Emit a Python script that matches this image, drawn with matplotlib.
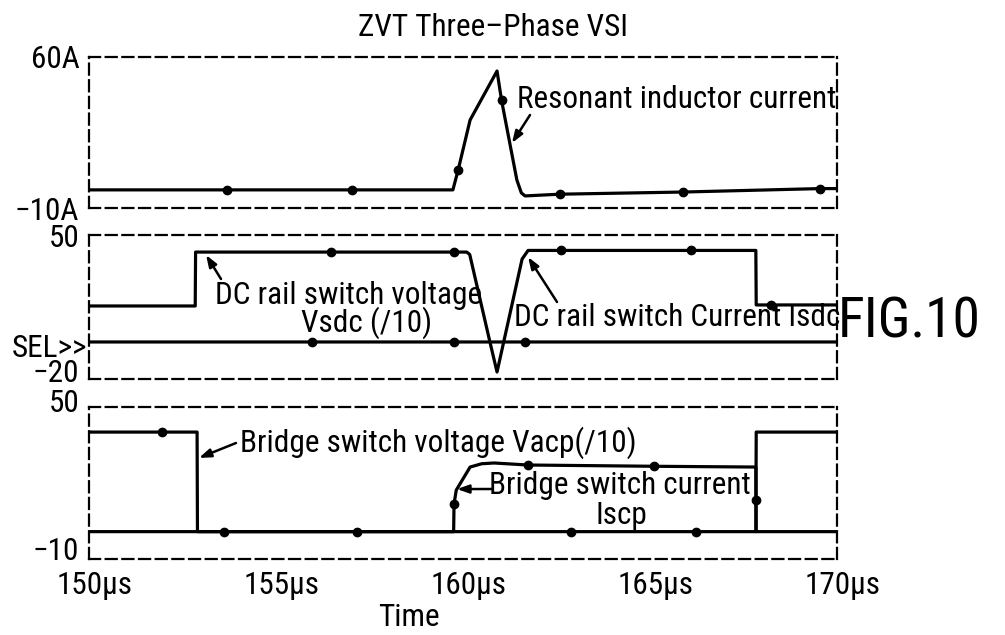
import numpy as np
import matplotlib
matplotlib.use("Agg")
import matplotlib.pyplot as plt
from matplotlib import font_manager as fm
from matplotlib.transforms import ScaledTranslation

# the drawing uses a narrow sans; look for one on the system, else fall back
narrow_name = None
for f in sorted(fm.findSystemFonts()):
    base = f.split("/")[-1].lower()
    if ("narrow" in base or "condensed" in base) and "bold" not in base and "italic" not in base \
            and "oblique" not in base:
        try:
            fm.fontManager.addfont(f)
            narrow_name = fm.FontProperties(fname=f).get_name()
            if "liberation" in base:
                break
        except Exception:
            pass

if narrow_name:
    plt.rcParams['font.family'] = [narrow_name, 'DejaVu Sans']
    fs, fs_big = 22.5, 40
else:
    plt.rcParams['font.family'] = ['Liberation Sans', 'DejaVu Sans']
    fs, fs_big = 20, 34

# ---- data (time in microseconds) ----
# panel 1: resonant inductor current (A)
t_lr = [150, 159.73, 159.87, 160.19, 160.91, 161.03, 161.44, 161.56, 161.66, 162.59, 165.88, 169.55, 170]
i_lr = [-1.6, -1.6, 7.6, 30.8, 53.5, 40.0, 3.0, -3.0, -4.4, -3.6, -2.6, -1.0, -1.0]
mk_t_lr = [153.69, 157.03, 159.87, 161.03, 162.59, 165.88, 169.55]
mk_v_lr = [-1.6, -1.6, 7.6, 40.0, -3.6, -2.6, -1.0]

# panel 2: DC rail switch voltage Vsdc(/10) and current Isdc
t_vsdc = [150, 152.84, 152.85, 160.10, 160.18, 160.72, 170]
v_vsdc = [15.5, 15.5, 41.7, 41.7, 40.5, -2.0, -2.0]
mk_t_vsdc = [156.48, 159.75, 161.65]
mk_v_vsdc = [41.7, 41.7, -2.0]

t_isdc = [150, 160.72, 160.91, 161.58, 161.74, 167.83, 167.84, 170]
i_isdc = [-2.0, -2.0, -16.6, 38.3, 42.5, 42.5, 16.0, 16.0]
mk_t_isdc = [155.97, 159.75, 162.61, 166.10, 168.23]
mk_v_isdc = [-2.0, -2.0, 42.5, 42.5, 16.0]

# panel 3: bridge switch voltage Vacp(/10) and current Iscp
t_vacp = [150, 152.89, 152.90, 167.83, 167.84, 170]
v_vacp = [40.1, 40.1, 0.8, 0.8, 40.1, 40.1]
mk_t_vacp = [151.95, 153.61, 157.17, 162.89, 166.22]
mk_v_vacp = [40.1, 0.8, 0.8, 0.8, 0.8]

t_iscp = [150, 159.75, 159.76, 159.82, 160.19, 160.50, 160.83, 161.73, 165.12, 167.83, 167.84, 170]
i_iscp = [0.8, 0.8, 11.7, 17.2, 26.3, 27.6, 27.9, 27.1, 26.6, 26.3, 0.8, 0.8]
mk_t_iscp = [159.76, 161.73, 165.12, 167.835]
mk_v_iscp = [11.7, 27.1, 26.6, 13.3]

x_ticks = [150, 155, 160, 165, 170]
x_labels = ["150µs", "155µs", "160µs", "165µs", "170µs"]
ylims = [(-10, 60), (-20, 50), (-10, 50)]
ylabels = [["−10A", "60A"], ["−20", "50"], ["−10", "50"]]

W, H = 1005, 635
fig = plt.figure(figsize=(W / 100, H / 100), dpi=100)


def frac(x, y):
    return x / W, 1 - y / H


def nudge(lab, dx_px, dy_px):
    lab.set_transform(lab.get_transform() +
                      ScaledTranslation(dx_px / 100, dy_px / 100, fig.dpi_scale_trans))


left, right = 89, 837
boxes = [(57, 208), (235, 379), (407, 559)]
axs = []
for (top, bot), lim, labs in zip(boxes, ylims, ylabels):
    ax = fig.add_axes([left / W, 1 - bot / H, (right - left) / W, (bot - top) / H])
    ax.set_xlim(150, 170)
    ax.set_ylim(*lim)
    for s in ax.spines.values():
        s.set_linestyle((0, (5, 2.5)))
        s.set_linewidth(1.6)
    ax.set_yticks(list(lim))
    ax.set_yticklabels(labs, fontsize=fs)
    ax.tick_params(length=0, pad=7)
    ax.set_xticks([])
    axs.append(ax)

# nudge the crowded y labels like the original
nudge(axs[1].get_yticklabels()[0], 0, 9)
nudge(axs[2].get_yticklabels()[1], 0, 7)
nudge(axs[2].get_yticklabels()[0], 0, 10)

ax3 = axs[2]
ax3.set_xticks(x_ticks)
ax3.set_xticklabels(x_labels, fontsize=fs)
ax3.tick_params(axis='x', length=0, pad=9)
for lab in ax3.get_xticklabels():
    nudge(lab, 6, 0)

lw = 2.3
ms = 6
kw = dict(color="black", lw=lw, solid_joinstyle="round")
mkw = dict(color="black", marker="o", ms=ms, ls="none")

a1 = axs[0]
a1.plot(t_lr, i_lr, **kw)
a1.plot(mk_t_lr, mk_v_lr, **mkw)

a2 = axs[1]
a2.plot(t_vsdc, v_vsdc, **kw)
a2.plot(t_isdc, i_isdc, **kw)
a2.plot(mk_t_vsdc, mk_v_vsdc, **mkw)
a2.plot(mk_t_isdc, mk_v_isdc, **mkw)

a3 = axs[2]
a3.plot(t_vacp, v_vacp, **kw)
a3.plot(t_iscp, i_iscp, **kw)
a3.plot(mk_t_vacp, mk_v_vacp, **mkw)
a3.plot(mk_t_iscp, mk_v_iscp, **mkw)

fig.text(*frac(493, 27), "ZVT Three–Phase VSI", fontsize=fs, ha="center", va="center")
fig.text(*frac(677, 100), "Resonant inductor current", fontsize=fs, ha="center", va="center")
fig.text(*frac(349, 295), "DC rail switch voltage", fontsize=fs, ha="center", va="center")
fig.text(*frac(367, 323), "Vsdc (/10)", fontsize=fs, ha="center", va="center")
fig.text(*frac(677, 317), "DC rail switch Current Isdc", fontsize=fs, ha="center", va="center")
fig.text(*frac(87, 348), "SEL>>", fontsize=fs, ha="right", va="center")
fig.text(*frac(438, 443), "Bridge switch voltage Vacp(/10)", fontsize=fs, ha="center", va="center")
fig.text(*frac(620, 485), "Bridge switch current", fontsize=fs, ha="center", va="center")
fig.text(*frac(621, 515), "Iscp", fontsize=fs, ha="center", va="center")
fig.text(*frac(409, 618), "Time", fontsize=fs, ha="center", va="center")
fig.text(*frac(909, 322), "FIG.10", fontsize=fs_big, ha="center", va="center")

# pointer arrows: tip on the curve (data), tail near the label (figure pixels)
arrows = [
    (a1, (161.31, 20.1), (530, 115)),
    (a2, (153.13, 40.3), (221, 279)),
    (a2, (161.74, 39.3), (557, 302)),
    (a3, (152.94, 29.9), (236, 443)),
    (a3, (159.84, 17.6), (492, 489)),
]
for ax, tip, tail in arrows:
    ax.annotate("", xy=tip, xycoords="data",
                xytext=(tail[0], H - tail[1]), textcoords="figure pixels",
                arrowprops=dict(arrowstyle="-|>,head_length=0.7,head_width=0.25",
                                color="black", lw=1.8, shrinkA=0, shrinkB=0))

fig.savefig("out.png", dpi=100)
